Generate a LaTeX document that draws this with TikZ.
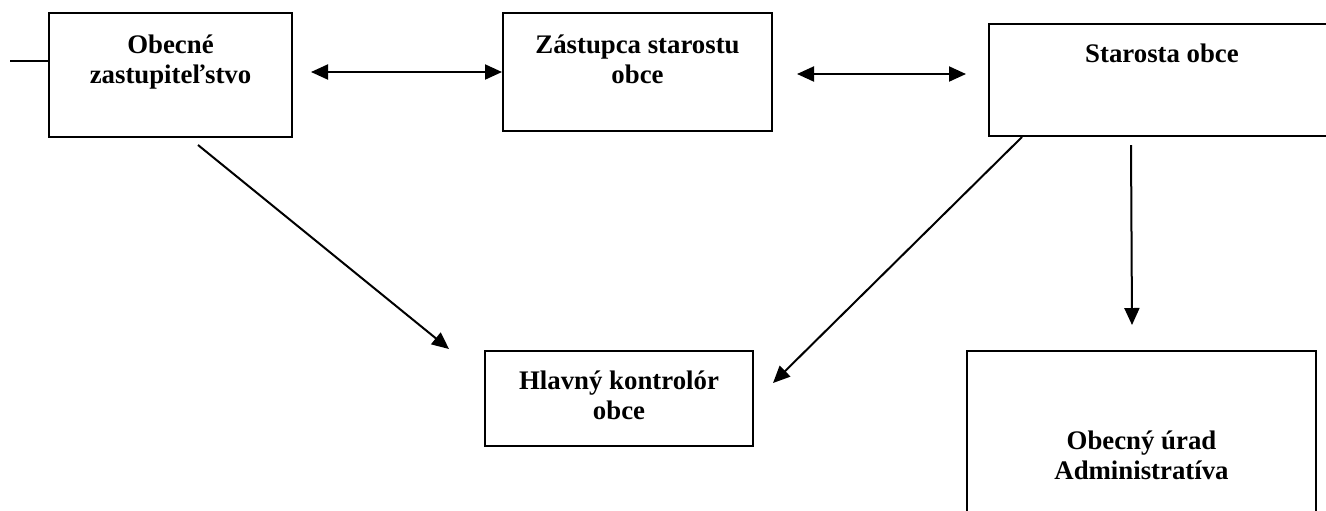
\documentclass[tikz,border=0pt]{standalone}
\usepackage{fontspec}
\setmainfont{Liberation Serif}
\usetikzlibrary{arrows.meta,positioning}

\tikzset{
  box/.style={draw, line width=1pt, inner sep=0pt},
  txt/.style={font=\bfseries\fontsize{13.4}{15}\selectfont, align=center, inner sep=0pt},
  link/.style={line width=1pt}
}

\begin{document}
\begin{tikzpicture}[x=0.5pt,y=-0.5pt,>={Triangle[length=8.5pt,width=7.5pt]}]
  \useasboundingbox (0,0) rectangle (1326,510);
  \clip (0,0) rectangle (1326,510);
  %boxes
  \node[box, minimum width=121.5pt, minimum height=62pt] (zast) at (170.5,75) {};
  \node[box, minimum width=134.5pt, minimum height=59pt] (zast2) at (637.5,72) {};
  \node[box, minimum width=173pt, minimum height=56pt] (staro) at (1162,80) {};
  \node[box, minimum width=134pt, minimum height=47.5pt] (kontr) at (619,398.5) {};
  \node[box, minimum width=174.5pt, minimum height=94.5pt] (urad) at (1141.5,445.5) {};
  %texts
  \node[txt, below=11pt of zast.north] (zastT) {Obecné\\zastupiteľstvo};
  \node[txt, below=11pt of zast2.north] (zast2T) {Zástupca starostu\\obce};
  \node[txt, below=10pt of staro.north] (staroT) {Starosta obce};
  \node[txt, below=10pt of kontr.north] (kontrT) {Hlavný kontrolór\\obce};
  \node[txt, below=40pt of urad.north] (uradT) {Obecný úrad\\Administratíva};
  %left stub
  \coordinate (stub) at (10,61);
  \draw[link] (stub) -- (stub -| zast.west);
  %horizontal arrows
  \draw[link,<->,shorten <=9pt] (zast.east |- zast2.west) -- (zast2.west);
  \draw[link,<->,shorten <=12pt,shorten >=11pt] ([yshift=-1pt]zast2.east) -- ([yshift=-1pt]zast2.east -| staro.west);
  %arrows down to the boxes
  \draw[link,->] ([xshift=13.75pt,yshift=-3.5pt]zast.south) -- ([xshift=-17.5pt,yshift=0.5pt]kontr.north west);
  \draw[link,->] ([xshift=17pt]staro.south west) -- ([xshift=9.5pt,yshift=7.75pt]kontr.east);
  \draw[link,->] ([xshift=71.5pt,yshift=-4pt]staro.south west) -- ([xshift=-4.75pt,yshift=12.5pt]urad.north);
\end{tikzpicture}
\end{document}
